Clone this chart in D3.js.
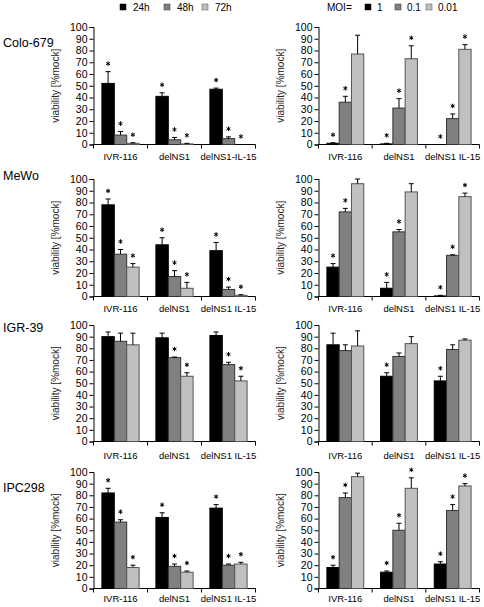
<!DOCTYPE html>
<html><head><meta charset="utf-8">
<script src="https://cdn.jsdelivr.net/npm/d3@7"></script>
<style>body{margin:0;background:#fff}svg{display:block;font-family:"Liberation Sans",Arial,sans-serif}</style>
</head><body><svg id="c" width="484" height="607"></svg>
<script>
const groups = ["IVR-116", "delNS1", "delNS1 IL-15"];
const groupsRow1Left = ["IVR-116", "delNS1", "delNS1-IL-15"];
const timeSeries = ["24h", "48h", "72h"];
const moiSeries = ["1", "0.1", "0.01"];
const cellLines = ["Colo-679", "MeWo", "IGR-39", "IPC298"];
const yTicks = [0,10,20,30,40,50,60,70,80,90,100];

// Colo-679
const coloTimeMean = [[52,8,1],[41,4,0.5],[47,5,0]];
const coloTimeErr  = [[10,3,0.5],[3,2,0.5],[1,1.5,0]];
const coloTimeStar = [[1,1,1],[1,1,1],[1,1,1]];
const coloMoiMean  = [[1,36,77],[0.5,31,73],[0,22,81]];
const coloMoiErr   = [[0.5,5,16],[0.5,8,11],[0,4,4]];
const coloMoiStar  = [[1,1,0],[1,1,1],[1,1,1]];
// MeWo
const mewoTimeMean = [[78,36,25],[44,17,7],[39,6,1]];
const mewoTimeErr  = [[5,4,3],[6,5,5],[7,2,0.5]];
const mewoTimeStar = [[1,1,1],[1,1,1],[1,1,1]];
const mewoMoiMean  = [[25,72,96],[7,55,89],[0.5,35,85]];
const mewoMoiErr   = [[3,3,4],[5,2,7],[0.5,0.5,3]];
const mewoMoiStar  = [[1,1,0],[1,1,0],[1,1,1]];
// IGR-39
const igrTimeMean = [[90,86,83],[89,72,56],[91,66,52]];
const igrTimeErr  = [[4,7,10],[4,0.5,3],[3,2,4]];
const igrTimeStar = [[0,0,0],[0,1,1],[0,1,1]];
const igrMoiMean  = [[83,78,82],[56,73,84],[52,79,87]];
const igrMoiErr   = [[10,5,13],[3,3,6],[4,4,1]];
const igrMoiStar  = [[0,0,0],[1,0,0],[1,0,0]];
// IPC298
const ipcTimeMean = [[82,57,18],[61,19,14],[69,20,21]];
const ipcTimeErr  = [[4,2,2],[4,2,1],[3,1,1.5]];
const ipcTimeStar = [[1,1,1],[1,1,1],[1,1,1]];
const ipcMoiMean  = [[18,78,96],[14,50,86],[21,67,88]];
const ipcMoiErr   = [[2,4,3],[1,6,9],[2,5,2]];
const ipcMoiStar  = [[1,1,0],[1,1,1],[1,1,1]];

const colors = ["#000000", "#808080", "#c0c0c0"];
const strokes = ["#000000", "#333333", "#555555"];

const panels = [
  {row:0,col:0,mean:coloTimeMean,err:coloTimeErr,star:coloTimeStar,labels:groupsRow1Left},
  {row:0,col:1,mean:coloMoiMean,err:coloMoiErr,star:coloMoiStar,labels:groups},
  {row:1,col:0,mean:mewoTimeMean,err:mewoTimeErr,star:mewoTimeStar,labels:groups},
  {row:1,col:1,mean:mewoMoiMean,err:mewoMoiErr,star:mewoMoiStar,labels:groups},
  {row:2,col:0,mean:igrTimeMean,err:igrTimeErr,star:igrTimeStar,labels:groups},
  {row:2,col:1,mean:igrMoiMean,err:igrMoiErr,star:igrMoiStar,labels:groups},
  {row:3,col:0,mean:ipcTimeMean,err:ipcTimeErr,star:ipcTimeStar,labels:groups},
  {row:3,col:1,mean:ipcMoiMean,err:ipcMoiErr,star:ipcMoiStar,labels:groups}
];

const colX = [[93.5,255.5],[318.5,479.5]];
const rowY = [[27,144.5],[179,296.5],[325,441.5],[472,588.5]];
const labelY = [157, 309, 456, 599];
const rowLabelY = [43, 176, 328, 488];

const svg = d3.select("#c");

// legends
const legL = svg.append("g");
const legLx = [120, 164, 202];
timeSeries.forEach((s,i)=>{
  legL.append("rect").attr("x",legLx[i]).attr("y",4).attr("width",6).attr("height",6)
    .attr("fill",colors[i]).attr("stroke",strokes[i]).attr("stroke-width",0.5);
  legL.append("text").attr("x",legLx[i]+13).attr("y",11).attr("font-size",10).text(s);
});
const legR = svg.append("g");
legR.append("text").attr("x",327).attr("y",11).attr("font-size",10).text("MOI=");
const legRx = [365, 395, 426];
moiSeries.forEach((s,i)=>{
  legR.append("rect").attr("x",legRx[i]).attr("y",4).attr("width",6).attr("height",6)
    .attr("fill",colors[i]).attr("stroke",strokes[i]).attr("stroke-width",0.5);
  legR.append("text").attr("x",legRx[i]+12).attr("y",11).attr("font-size",10).text(s);
});

// row labels
cellLines.forEach((c,i)=>{
  svg.append("text").attr("x",3).attr("y",rowLabelY[i]).attr("dy","0.35em")
    .attr("font-size",12.5).text(c);
});

const star = d3.symbol().type(d3.symbolAsterisk).size(14);

panels.forEach(p=>{
  const [x0,x1] = colX[p.col];
  const [y0,y1] = rowY[p.row];
  const g = svg.append("g");
  const y = d3.scaleLinear().domain([0,100]).range([y1,y0]);
  const xg = d3.scaleBand().domain(d3.range(3)).range([x0,x1]).padding(0);
  const xs = d3.scaleBand().domain(d3.range(3)).range([8.4, xg.bandwidth()-8.4]).padding(0);

  // y axis
  const ya = g.append("g").attr("transform",`translate(${x0},0)`)
    .call(d3.axisLeft(y).tickValues(yTicks).tickSize(4).tickPadding(2));
  ya.selectAll("text").attr("font-size",10.5).attr("font-family","Liberation Sans, Arial, sans-serif").attr("fill","#000");
  ya.selectAll("line,path").attr("stroke","#000");

  // x axis: line with boundary ticks
  const xa = g.append("g").attr("transform",`translate(0,${y1})`);
  xa.append("line").attr("x1",x0).attr("x2",x1).attr("stroke","#000");
  d3.range(4).forEach(i=>{
    const xx = i<3 ? xg(i) : x1;
    xa.append("line").attr("x1",xx).attr("x2",xx).attr("y1",0).attr("y2",4).attr("stroke","#000");
  });
  p.labels.forEach((l,i)=>{
    svg.append("text").attr("x",xg(i)+xg.bandwidth()/2).attr("y",labelY[p.row]).attr("dy","0.35em")
      .attr("text-anchor","middle").attr("font-size",9.5).text(l);
  });

  // y title
  svg.append("text").attr("transform",`translate(${x0-35},${(y0+y1)/2}) rotate(-90)`)
    .attr("text-anchor","middle").attr("font-size",10).attr("fill","#222").text("viability [%mock]");

  // bars
  p.mean.forEach((row,gi)=>{
    row.forEach((v,si)=>{
      const bx = xg(gi)+xs(si);
      const bw = xs.bandwidth();
      g.append("rect").attr("x",bx).attr("y",y(v)).attr("width",bw).attr("height",y(0)-y(v))
        .attr("fill",colors[si]).attr("stroke",strokes[si]).attr("stroke-width",1);
      const e = p.err[gi][si];
      const cx = bx + bw/2;
      if (e > 0) {
        g.append("line").attr("x1",cx).attr("x2",cx).attr("y1",y(v)).attr("y2",y(v+e)).attr("stroke","#000");
        g.append("line").attr("x1",cx-2.5).attr("x2",cx+2.5).attr("y1",y(v+e)).attr("y2",y(v+e)).attr("stroke","#000");
      }
      if (p.star[gi][si]) {
        g.append("path").attr("d",star).attr("transform",`translate(${cx},${y(v+e)-8})`)
          .attr("fill","none").attr("stroke","#000").attr("stroke-width",1);
      }
    });
  });
});
</script></body></html>
